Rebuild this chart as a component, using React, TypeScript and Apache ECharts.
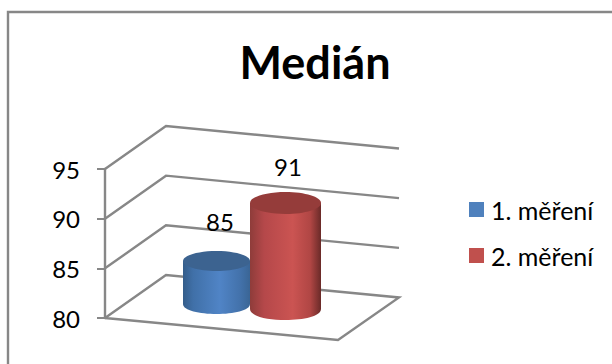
import React, { useEffect, useRef } from "react";
import * as echarts from "echarts";

const titleText = "Medián";
const categories = ["Medián"];
const seriesNames = ["1. měření", "2. měření"];
const firstValues = [85];
const secondValues = [91];
const tickLevels = [80, 85, 90, 95];

const FONT = "Lato, 'Noto Sans', sans-serif";
const GRID_COLOR = "#878787";

// Oblique projection of the chart's floor: offsets from the front-left axis corner.
const BACK_LEFT = { dx: 61, dy: -43 };
const RIGHT_CORNER = { dx: 294, dy: -20.5 };
const FRONT_RIGHT = { dx: 233, dy: 22 };

function planeItem(params: any, api: any) {
  const p = api.coord([0, api.value(1)]);
  const x = params.coordSys.x;
  const y = p[1];
  const isFloor = api.value(1) === tickLevels[0];
  const points = isFloor
    ? [
        [x, y],
        [x + BACK_LEFT.dx, y + BACK_LEFT.dy],
        [x + RIGHT_CORNER.dx, y + RIGHT_CORNER.dy],
        [x + FRONT_RIGHT.dx, y + FRONT_RIGHT.dy],
        [x, y],
      ]
    : [
        [x, y],
        [x + BACK_LEFT.dx, y + BACK_LEFT.dy],
        [x + RIGHT_CORNER.dx, y + RIGHT_CORNER.dy],
      ];
  return {
    type: "polyline",
    shape: { points },
    style: { fill: "none", stroke: GRID_COLOR, lineWidth: 2.4 },
  };
}

type ShadeStop = { offset: number; color: string };

type CylinderLook = {
  offset: number;
  width: number;
  rise: number; // depth shift of the base above the axis
  scale: number; // foreshortening of the value axis at this depth
  ry: number;
  shades: ShadeStop[];
  cap: string;
};

echarts.graphic.registerShape(
  "cylinderBody",
  echarts.graphic.extendShape({
    shape: { cx: 0, yTop: 0, yBase: 0, rx: 1, ry: 1 },
    buildPath(ctx: any, s: any) {
      const c = s.ry * 1.333;
      ctx.moveTo(s.cx - s.rx, s.yTop);
      ctx.lineTo(s.cx - s.rx, s.yBase);
      ctx.bezierCurveTo(s.cx - s.rx, s.yBase + c, s.cx + s.rx, s.yBase + c, s.cx + s.rx, s.yBase);
      ctx.lineTo(s.cx + s.rx, s.yTop);
      ctx.closePath();
    },
  })
);

function cylinderItem(look: CylinderLook) {
  return (_params: any, api: any) => {
    const base = api.coord([api.value(0), tickLevels[0]]);
    const top = api.coord([api.value(0), api.value(1)]);
    const cx = base[0] + look.offset;
    const yBase = base[1] - look.rise;
    const yTop = yBase - (base[1] - top[1]) * look.scale;
    const rx = look.width / 2;
    return {
      type: "group",
      children: [
        {
          type: "cylinderBody",
          shape: { cx, yTop, yBase, rx, ry: look.ry },
          style: { fill: new echarts.graphic.LinearGradient(0, 0, 1, 0, look.shades) },
        },
        {
          type: "ellipse",
          shape: { cx, cy: yTop, rx, ry: look.ry },
          style: { fill: look.cap },
        },
      ],
    };
  };
}

const blueLook: CylinderLook = {
  offset: -35,
  width: 67,
  rise: 14,
  scale: 0.866,
  ry: 10,
  shades: [
    { offset: 0, color: "#345d8a" },
    { offset: 0.15, color: "#4070a8" },
    { offset: 0.55, color: "#5084c6" },
    { offset: 0.85, color: "#4372ab" },
    { offset: 1, color: "#3a6595" },
  ],
  cap: "#3c6390",
};

const redLook: CylinderLook = {
  offset: 34,
  width: 71,
  rise: 9,
  scale: 0.971,
  ry: 11,
  shades: [
    { offset: 0, color: "#8e3c3a" },
    { offset: 0.2, color: "#b5484a" },
    { offset: 0.6, color: "#cb5452" },
    { offset: 0.85, color: "#b04644" },
    { offset: 1, color: "#6a2a28" },
  ],
  cap: "#953c3a",
};

export default function App() {
  const ref = useRef<HTMLDivElement>(null);

  useEffect(() => {
    const chart = echarts.init(ref.current!, null, { renderer: "svg" });
    chart.setOption({
      animation: false,
      backgroundColor: "#ffffff",
      title: {
        text: titleText,
        left: 315,
        top: 39,
        padding: 0,
        textAlign: "center",
        textStyle: { fontFamily: FONT, fontSize: 45, fontWeight: "bold", color: "#000" },
      },
      legend: {
        data: seriesNames,
        orient: "vertical",
        left: 469,
        top: 197,
        padding: 0,
        itemWidth: 15,
        itemHeight: 15,
        itemGap: 21,
        itemStyle: { borderWidth: 0 },
        icon: "rect",
        textStyle: { fontFamily: FONT, fontSize: 25, color: "#000", padding: [0, 0, 0, 2] },
      },
      grid: { left: 105, top: 169, width: 293, height: 149 },
      xAxis: { type: "category", data: categories, show: false },
      yAxis: {
        type: "value",
        min: 80,
        max: 95,
        interval: 5,
        splitLine: { show: false },
        axisLine: { show: true, lineStyle: { color: GRID_COLOR, width: 2.4 } },
        axisTick: { show: true, length: 8, lineStyle: { color: GRID_COLOR, width: 2 } },
        axisLabel: { fontFamily: FONT, fontSize: 24, color: "#000", margin: 25 },
      },
      series: [
        {
          type: "custom",
          name: "planes",
          silent: true,
          z: 1,
          renderItem: planeItem,
          data: tickLevels.map((v) => [0, v]),
          encode: { x: 0, y: 1 },
        },
        {
          type: "custom",
          name: seriesNames[0],
          z: 2,
          itemStyle: { color: "#4f81bd" },
          renderItem: cylinderItem(blueLook),
          data: firstValues.map((v, i) => [i, v]),
          encode: { x: 0, y: 1 },
        },
        {
          type: "custom",
          name: seriesNames[1],
          z: 3,
          itemStyle: { color: "#c0504d" },
          renderItem: cylinderItem(redLook),
          data: secondValues.map((v, i) => [i, v]),
          encode: { x: 0, y: 1 },
        },
        // Value captions sit above each cylinder and are anchored on the data point.
        {
          type: "custom",
          name: "captions",
          silent: true,
          z: 4,
          renderItem: (_p: any, api: any) => {
            const pt = api.coord([0, api.value(1)]);
            return {
              type: "text",
              x: pt[0] + api.value(2),
              y: pt[1] + api.value(3),
              style: {
                text: String(api.value(1)),
                fontFamily: FONT,
                fontSize: 24,
                fill: "#000",
                align: "center",
                verticalAlign: "middle",
              },
            };
          },
          data: [
            [0, firstValues[0], -31.5, -47],
            [0, secondValues[0], 36.5, -42],
          ],
          encode: { x: 0, y: 1 },
        },
      ],
      // Outer chart frame; its right and bottom edges run past the visible page.
      graphic: [
        {
          type: "rect",
          z: -1,
          shape: { x: 8, y: 12, width: 640, height: 400 },
          style: { fill: "none", stroke: GRID_COLOR, lineWidth: 2.4 },
        },
      ],
    });
    return () => chart.dispose();
  }, []);

  return <div ref={ref} style={{ position: "fixed", left: 0, top: 0, width: 612, height: 364 }} />;
}
